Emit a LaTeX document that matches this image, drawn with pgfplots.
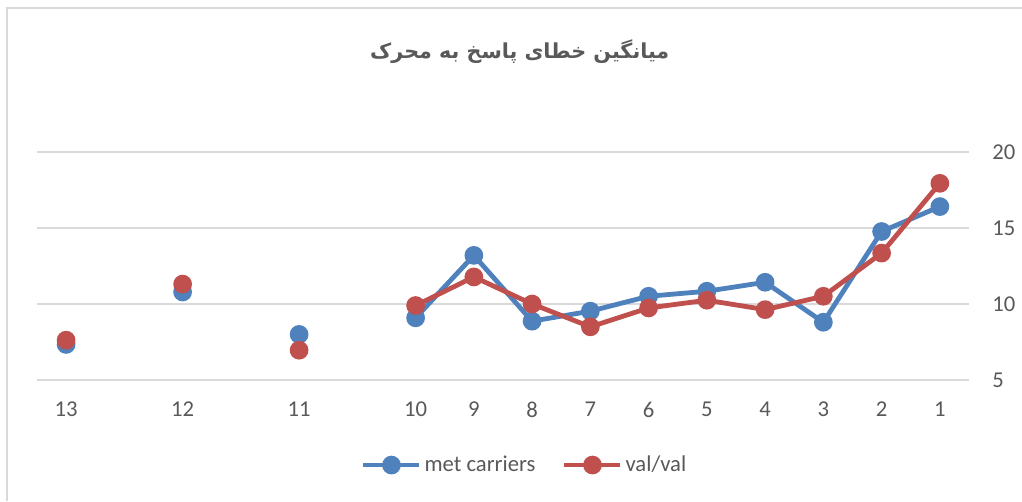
\documentclass[border=0pt]{standalone}
\usepackage{pgfplots}
\pgfplotsset{compat=1.18}
\usepackage{fontspec}
\setmainfont{Carlito}
\newfontfamily\arabicfont[Script=Arabic]{DejaVu Sans}
\TeXXeTstate=1
\definecolor{blueS}{HTML}{4F81BD}
\definecolor{redS}{HTML}{C0504D}
\definecolor{txt}{HTML}{595959}
\definecolor{gridc}{HTML}{D9D9D9}
\begin{document}
\begin{tikzpicture}
\draw[color=gridc,line width=1.5pt] (5.25pt,-375.75pt) -- (5.25pt,-6pt) -- (766.5pt,-6pt);
\begin{axis}[
  at={(27.75pt,-285pt)}, anchor=south west,
  scale only axis, width=699pt, height=171pt,
  x dir=reverse,
  xmin=0.5, xmax=16.5, ymin=5, ymax=20,
  xtick={1,2,3,4,5,6,7,8,9,10,12,14,16},
  xticklabels={1,2,3,4,5,6,7,8,9,10,11,12,13},
  ytick={5,10,15,20},
  yticklabel pos=right,
  ymajorgrids, grid style={color=gridc,line width=1.2pt},
  axis line style={draw=none},
  major tick length=0pt,
  tick label style={font=\fontsize{17}{20}\selectfont, text=txt},
  /pgf/number format/assume math mode=true,
  xticklabel style={yshift=-13pt},
  yticklabel style={xshift=14pt},
  unbounded coords=jump,
  clip=false,
  title={\arabicfont\bfseries\beginR میانگین خطای پاسخ به محرک\endR},
  title style={at={(0.518,1.405)}, anchor=center, font=\fontsize{15.5}{18}\selectfont, text=txt},
  legend columns=2,
  legend style={at={(0.5236,-0.373)}, anchor=center, draw=none, fill=none,
    font=\fontsize{17}{20}\selectfont, text=txt,
    /tikz/every even column/.append style={column sep=18pt}},
  legend image code/.code={\draw[#1,mark repeat=2,mark phase=2] plot coordinates {(0pt,0pt) (21pt,0pt) (42pt,0pt)};},
]
\addplot[color=blueS, line width=3.6pt, mark=*, mark size=5.2pt, mark options={solid}] coordinates {
(1,16.41) (2,14.77) (3,8.8) (4,11.43) (5,10.84) (6,10.51) (7,9.53) (8,8.87) (9,13.2) (10,9.09)
(11,nan) (12,8.0) (13,nan) (14,10.79) (15,nan) (16,7.34)};
\addlegendentry{met carriers}
\addplot[color=redS, line width=3.6pt, mark=*, mark size=5.2pt, mark options={solid}] coordinates {
(1,17.94) (2,13.35) (3,10.51) (4,9.63) (5,10.25) (6,9.74) (7,8.5) (8,10.0) (9,11.78) (10,9.9)
(11,nan) (12,6.96) (13,nan) (14,11.31) (15,nan) (16,7.62)};
\addlegendentry{val/val}
\end{axis}
\pgfresetboundingbox
\path (0,0) rectangle (766.5pt,-375.75pt);
\end{tikzpicture}
\end{document}
